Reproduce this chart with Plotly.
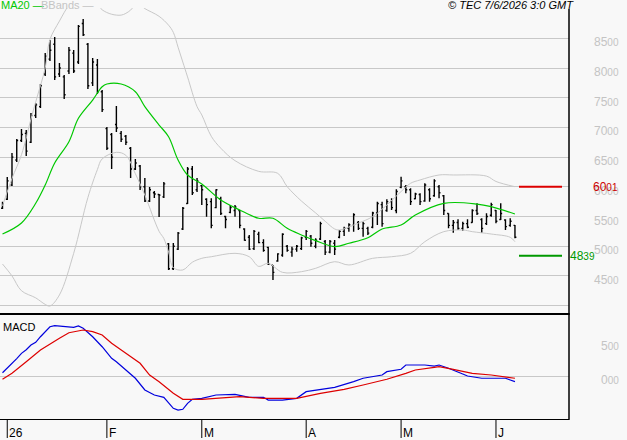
import plotly.graph_objects as go

# ---------------- data ----------------
bar_idx = list(range(109))
open_ = [5640,5790,6030,6450,6780,6900,6750,7200,7350,7900,
         8150,8400,7900,7850,7950,8250,8100,8750,8400,7750,
         8050,7600,6980,6880,7050,6900,6850,6650,6300,6350,
         6000,5760,5900,5870,5830,5040,4620,4950,5290,5720,
         6300,5950,6020,5790,5750,5650,5800,5500,5570,5600,
         5600,5290,5150,4960,5200,5060,4980,4680,4750,4850,
         5000,4900,4950,4960,5150,5170,5000,5120,5080,4900,
         5050,5150,5250,5300,5350,5400,5300,5300,5320,5560,
         5700,5600,5750,5600,5990,6000,5950,5800,5870,5760,
         5950,5850,6000,5850,5550,5350,5400,5300,5380,5400,
         5600,5450,5380,5520,5600,5450,5440,5350,5350]
high = [5750,6165,6569,6805,6973,6956,7242,7411,7731,8253,
        8471,8522,8084,7882,8354,8303,8724,8825,8421,8168,
        8152,7630,7007,6906,7360,6939,6872,6670,6468,6367,
        6148,5997,5929,5879,6081,5054,5054,5239,5660,6333,
        6350,6148,6030,5806,5806,5958,5834,5514,5694,5694,
        5610,5301,5189,5273,5244,5116,4992,4684,4880,5217,
        5020,4992,5020,5160,5273,5189,5133,5413,5104,5104,
        5104,5273,5328,5385,5554,5424,5413,5328,5581,5749,
        5749,5790,5806,5958,6170,6030,5975,5901,5891,6059,
        5975,6126,6030,5862,5554,5441,5453,5413,5453,5621,
        5722,5470,5554,5732,5610,5722,5453,5470,5357]
low = [5626,5778,6013,6418,6754,6518,6737,7158,7327,7865,
       8118,7798,7849,7478,7899,7916,8067,8539,7646,7697,
       7562,7259,6620,6300,6923,6754,6704,6148,6283,5946,
       5744,5744,5811,5492,5811,4599,4599,4936,5273,5710,
       5862,5913,5694,5497,5302,5638,5525,5301,5554,5496,
       5301,5093,4936,4936,5049,4908,4683,4431,4739,4823,
       4907,4823,4907,4936,5104,4992,4965,5104,4852,4880,
       4852,5133,5172,5244,5244,5273,5160,5189,5301,5357,
       5328,5581,5609,5554,5975,5891,5694,5790,5694,5749,
       5749,5834,5806,5525,5301,5227,5273,5261,5301,5396,
       5525,5227,5357,5497,5385,5441,5273,5328,5133]
close = [5720,6100,6500,6780,6880,6600,7200,7380,7700,8200,
         8300,7850,8000,7550,8300,7950,8700,8560,7700,8100,
         7600,7300,6650,6500,6990,6800,6750,6300,6400,6000,
         5760,5950,5880,5860,6050,4620,5000,5220,5640,6300,
         5900,6100,5950,5700,5350,5950,5550,5450,5650,5660,
         5350,5100,4950,5250,5060,4930,4700,4560,4870,5200,
         4930,4950,5000,5140,5250,5050,5100,5380,4900,5080,
         4950,5250,5300,5360,5530,5300,5380,5220,5560,5720,
         5380,5750,5650,5920,6100,5950,5750,5880,5750,6030,
         5800,6100,5900,5600,5350,5400,5300,5380,5320,5600,
         5550,5300,5500,5700,5420,5550,5330,5420,5150]

ma20_idx = [0,4,7,9,11,14,16,19,21,22,25,28,30,33,35,37,39,42,46,50,
            54,57,60,63,66,70,73,77,80,84,87,93,100,103,108]
ma20_val = [5205,5391,5722,6030,6401,6759,7153,7461,7685,7731,
            7731,7601,7349,7040,6843,6451,6199,6047,5778,5610,
            5470,5470,5301,5189,5093,4992,5049,5143,5289,5357,
            5525,5722,5710,5665,5542]

bb_up_idx = [0,2,4,6,7,9,10,12,14,16,18,20,21,23,25,26,27,28,29,30,
             33,35,36,37,38,39,41,42,44,46,49,54,58,60,63,66,68,70,71,75,
             78,81,84,86,88,92,95,102,104,108]
bb_up_val = [5680,6140,6540,7140,7430,8000,8480,8790,9060,9240,
             9270,9080,8980,8905,8890,8920,8975,9060,9060,9000,
             8870,8720,8600,8350,8100,7850,7350,7210,6850,6650,
             6440,6260,6227,6002,5760,5560,5420,5290,5273,5390,
             5497,5694,5920,6059,6115,6199,6199,6180,6090,6002]

bb_lo_idx = [0,2,4,7,9,10,12,15,18,20,21,24,26,28,30,33,34,35,36,38,
             40,42,44,49,52,54,56,59,63,66,70,73,78,82,86,89,93,97,99,103,
             107,108]
bb_lo_val = [4700,4500,4250,4130,4020,3993,4180,4880,5820,6290,
             6470,6580,6530,6220,5860,5250,5130,4900,4640,4600,
             4730,4796,4823,4880,4823,4660,4712,4560,4571,4628,
             4739,4684,4796,4823,4880,5076,5245,5273,5245,5205,
             5150,5076]

macd_idx = [0,1,2,3,4,5,6,7,8,10,11,14,15,16,17,19,21,23,24,26,28,30,32,34,
            35,36,37,38,39,40,42,43,45,49,52,55,56,59,62,64,67,70,74,76,
            80,81,84,85,89,91,92,94,97,98,101,106,107,108]
macd_val = [53,120,191,260,338,390,460,500,582,729,744,729,721,740,
            706,582,435,265,215,93,-29,-201,-275,-309,
            -397,-471,-496,-485,-397,-338,-324,-309,-275,-265,
            -309,-309,-349,-349,-324,-226,-191,-162,-79,-29,
            19,68,103,166,166,151,166,118,34,4,
            -29,-29,-54,-79]

signal_idx = [0,2,5,8,12,14,17,19,21,23,26,29,31,33,36,38,42,47,50,55,
              62,67,72,76,81,85,87,91,92,95,99,103,108]
signal_val = [-44,44,215,387,559,641,681,656,607,485,
              338,191,19,-79,-250,-338,-338,-309,-300,-324,
              -324,-250,-191,-128,-44,44,93,132,141,103,
              44,19,-29]

resistance = 6001
support = 4839

price_grid = [4000,4500,5000,5500,6000,6500,7000,7500,8000,8500]
price_label_vals = [4500,5000,5500,6000,6500,7000,7500,8000,8500]
macd_label_vals = [500, 0]

month_idx = [1, 22, 42, 64, 84, 104]
month_labels = ["26", "F", "M", "A", "M", "J"]

# ---------------- layout geometry ----------------
W, H = 627, 440
BG = "#f8f8f8"
X0_PX, STEP_PX = 2.5, 4.745
RIGHT_PX = 569
FONT = "Liberation Sans, Arial, sans-serif"
GREY_TXT = "#c4c4c4"

def pyp(ypx):
    return (H - ypx) / H

def pxp(xpx):
    return xpx / W

def split_label(value):
    s = "000" if value == 0 else str(int(value))
    return s[:-2] + "<span style='font-size:10px'>" + s[-2:] + "</span>"

xrange_ = [(0 - X0_PX) / STEP_PX, (RIGHT_PX - X0_PX) / STEP_PX]

fig = go.Figure()

fig.add_trace(go.Scatter(x=bb_up_idx, y=bb_up_val, mode="lines", line=dict(color="#c8c8c8", width=1, shape="spline"),
                         xaxis="x", yaxis="y", hoverinfo="skip"))
fig.add_trace(go.Scatter(x=bb_lo_idx, y=bb_lo_val, mode="lines", line=dict(color="#c8c8c8", width=1, shape="spline"),
                         xaxis="x", yaxis="y", hoverinfo="skip"))
fig.add_trace(go.Scatter(x=ma20_idx, y=ma20_val, mode="lines", line=dict(color="#00c800", width=1.2, shape="spline"),
                         xaxis="x", yaxis="y", hoverinfo="skip"))
fig.add_trace(go.Ohlc(x=bar_idx, open=open_, high=high, low=low, close=close,
                      increasing=dict(line=dict(color="black", width=1.4)),
                      decreasing=dict(line=dict(color="black", width=1.4)),
                      tickwidth=0.3, xaxis="x", yaxis="y"))

lvl_x = [(519 - X0_PX) / STEP_PX, (562 - X0_PX) / STEP_PX]
fig.add_trace(go.Scatter(x=lvl_x, y=[resistance, resistance], mode="lines",
                         line=dict(color="#dd0000", width=2), xaxis="x", yaxis="y", cliponaxis=False))
fig.add_trace(go.Scatter(x=lvl_x, y=[support, support], mode="lines",
                         line=dict(color="#009900", width=2), xaxis="x", yaxis="y", cliponaxis=False))

fig.add_trace(go.Scatter(x=macd_idx, y=macd_val, mode="lines", line=dict(color="#0000dd", width=1.2),
                         xaxis="x2", yaxis="y2", hoverinfo="skip"))
fig.add_trace(go.Scatter(x=signal_idx, y=signal_val, mode="lines", line=dict(color="#dd0000", width=1.2),
                         xaxis="x2", yaxis="y2", hoverinfo="skip"))

MAIN_TOP, MAIN_BOT = 8, 314
MACD_TOP, MACD_BOT = 315, 419

fig.update_layout(
    width=W, height=H, margin=dict(l=0, r=0, t=0, b=0),
    paper_bgcolor=BG, plot_bgcolor=BG, showlegend=False,
    font=dict(family=FONT, size=11, color="black"),
    xaxis=dict(domain=[0, pxp(RIGHT_PX)], range=xrange_, showgrid=False, zeroline=False,
               showticklabels=False, ticks="", anchor="y", rangeslider=dict(visible=False)),
    yaxis=dict(domain=[pyp(MAIN_BOT), pyp(MAIN_TOP)], range=[9144.8 - 16.835 * MAIN_BOT, 9144.8 - 16.835 * MAIN_TOP],
               tickvals=price_grid, showticklabels=False, gridcolor="#c8c8c8", gridwidth=1,
               zeroline=False, ticks="", anchor="x"),
    xaxis2=dict(domain=[0, pxp(RIGHT_PX)], range=xrange_, showgrid=False, zeroline=False,
                showticklabels=False, ticks="", anchor="y2", matches="x"),
    yaxis2=dict(domain=[pyp(MACD_BOT), pyp(MACD_TOP)], range=[(376.3 - MACD_BOT) * 14.706, (376.3 - MACD_TOP) * 14.706],
                tickvals=[0], showticklabels=False, gridcolor="#c8c8c8", gridwidth=1,
                zeroline=False, ticks="", anchor="x2"),
)

shapes = []
shapes.append(dict(type="line", xref="paper", yref="paper", x0=pxp(RIGHT_PX), x1=pxp(RIGHT_PX),
                   y0=pyp(9), y1=pyp(MACD_BOT), line=dict(color="black", width=1.5)))
shapes.append(dict(type="line", xref="paper", yref="paper", x0=0, x1=pxp(RIGHT_PX + 0.7),
                   y0=pyp(314), y1=pyp(314), line=dict(color="black", width=2)))
shapes.append(dict(type="line", xref="paper", yref="paper", x0=0, x1=pxp(RIGHT_PX + 0.7),
                   y0=pyp(419.5), y1=pyp(419.5), line=dict(color="black", width=1)))
for mi in month_idx:
    shapes.append(dict(type="line", xref="x2", yref="paper", x0=mi, x1=mi,
                       y0=pyp(419), y1=pyp(438), line=dict(color="black", width=1)))
fig.update_layout(shapes=shapes)

ann = []
for v in price_label_vals:
    ann.append(dict(xref="paper", yref="y", x=pxp(620), y=v, yshift=-4, xanchor="right", yanchor="middle",
                    text=split_label(v), showarrow=False, font=dict(color=GREY_TXT, size=12)))
for v in macd_label_vals:
    ann.append(dict(xref="paper", yref="y2", x=pxp(620), y=v, yshift=-4, xanchor="right", yanchor="middle",
                    text=split_label(v), showarrow=False, font=dict(color=GREY_TXT, size=12)))
ann.append(dict(xref="paper", yref="y", x=pxp(592), y=resistance, xanchor="left", yanchor="middle",
                text=split_label(resistance), showarrow=False, font=dict(color="#cc0000", size=12)))
ann.append(dict(xref="paper", yref="y", x=pxp(569), y=support, xanchor="left", yanchor="middle",
                text=split_label(support), showarrow=False, font=dict(color="#009900", size=12)))
for mi, lab in zip(month_idx, month_labels):
    ann.append(dict(xref="x2", yref="paper", x=mi, y=pyp(433), xshift=1, xanchor="left", yanchor="middle",
                    text=lab, showarrow=False, font=dict(color="black", size=12)))
ann.append(dict(xref="paper", yref="paper", x=0, y=pyp(5), xanchor="left", yanchor="middle",
                text="MA20 \u2014", showarrow=False, font=dict(color="#00c800", size=11)))
ann.append(dict(xref="paper", yref="paper", x=pxp(40), y=pyp(5), xanchor="left", yanchor="middle",
                text="BBands \u2014", showarrow=False, font=dict(color=GREY_TXT, size=11)))
ann.append(dict(xref="paper", yref="paper", x=pxp(575), y=pyp(4.5), xanchor="right", yanchor="middle",
                text="<i>\u00a9 TEC 7/6/2026 3:0 GMT</i>", showarrow=False, font=dict(color="black", size=11)))
ann.append(dict(xref="paper", yref="paper", x=pxp(2), y=pyp(327), xanchor="left", yanchor="middle",
                text="MACD", showarrow=False, font=dict(color="black", size=11)))
for a in ann:
    a.setdefault("borderpad", 0)
fig.update_layout(annotations=ann)

fig.write_html("out.html")
